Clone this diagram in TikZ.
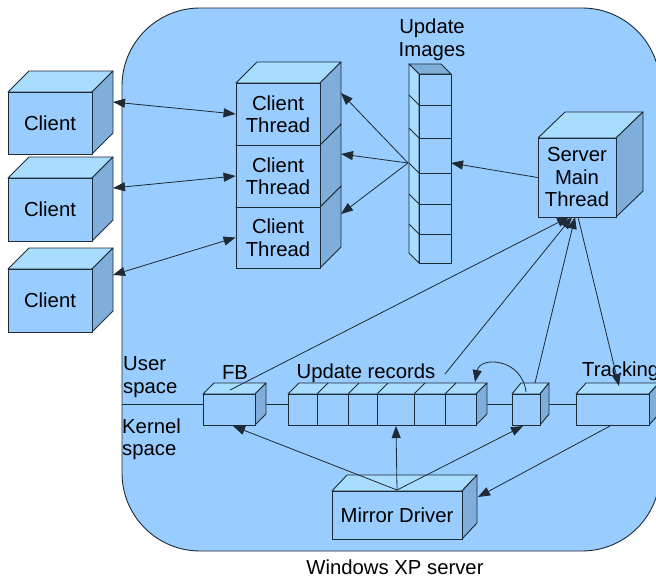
\documentclass[tikz,border=0pt]{standalone}
\usepackage{fontspec}
\setmainfont{Liberation Sans}
\usetikzlibrary{arrows.meta}
\definecolor{bg}{HTML}{99CCFF}
\definecolor{topc}{HTML}{A8DDFF}
\definecolor{sidec}{HTML}{80AEDB}
\definecolor{edge}{HTML}{1E2A36}
\tikzset{
  face/.style={draw=edge, fill=bg, inner sep=0pt, align=center, line width=0.9pt},
  topf/.style={draw=edge, fill=topc, line width=0.9pt, line join=round},
  sidef/.style={draw=edge, fill=sidec, line width=0.9pt, line join=round},
  conn/.style={draw=edge, line width=0.8pt},
  arr/.style={conn, -{Triangle[length=12pt,width=9pt]}},
  darr/.style={conn, {Triangle[length=12pt,width=9pt]}-{Triangle[length=12pt,width=9pt]}},
  lbl/.style={inner sep=0pt, align=center}
}
\newcommand\cubebox[8]{%
  \path[topf] (#2,#3) -- ++(#6,-#7) -- ++(#4-#2,0) -- (#4,#3) -- cycle;
  \path[sidef] (#4,#3) -- ++(#6,-#7) -- ++(0,#5-#3) -- (#4,#5) -- cycle;
  \node[face, minimum width={(#4-#2)*1pt}, minimum height={(#5-#3)*1pt}] (#1) at ({(#2+#4)/2},{(#3+#5)/2}) {#8};
}
\begin{document}
\begin{tikzpicture}[x=1pt,y=-1pt, font=\fontsize{20.3}{22.5}\selectfont]
\useasboundingbox (0,0) rectangle (656,578);
\clip (0,0) rectangle (656,578);
% background region
\path[draw=edge, fill=bg, line width=0.9pt, rounded corners=78pt] (122,8) rectangle (660,551);
% user/kernel separator
\coordinate (sepL) at (122,404);
\coordinate (sepR) at (656,404);
\draw[conn] (sepL) -- (sepR);
% clients
\cubebox{c1}{8}{92}{92}{154}{21}{21}{Client}
\cubebox{c2}{8}{178}{92}{241}{21}{21}{Client}
\cubebox{c3}{8}{269}{92}{332}{21}{21}{Client}
% client threads (bottom first)
\cubebox{t3}{236}{207}{320}{268}{21}{21}{Client\\Thread}
\cubebox{t2}{236}{145}{320}{207}{21}{21}{Client\\Thread}
\cubebox{t1}{236}{83}{320}{145}{21}{21}{Client\\Thread}
% update images column
\path[sidef] (409,64) -- (441,64) -- (451,74) -- (419,74) -- cycle;
\path[topf] (409,64) -- (419,74) -- (419,263) -- (409,253) -- cycle;
\node[face, minimum width=32pt, minimum height=189pt] (ui) at (435,168.5) {};
\foreach \yy in {105,138,173,204,234} {
  \draw[edge, line width=0.9pt] (419,\yy) -- (451,\yy);
  \draw[edge, line width=0.9pt] (419,\yy) -- (409,\yy-10);
}
\node[lbl] (uilbl) at (432,40) {Update\\Images};
% server main thread
\cubebox{smt}{538}{138}{616}{217}{27}{26}{Server\\Main\\Thread}
% bottom row
\cubebox{fb}{203}{394}{255}{425}{11}{11}{}
\cubebox{ur}{288}{394}{476}{425}{11}{11}{}
\foreach \xx in {317,348,377,414,445} {
  \draw[edge, line width=0.9pt] (\xx,394) -- (\xx,425);
  \draw[edge, line width=0.9pt] (\xx,394) -- (\xx+11,383);
}
\cubebox{sb}{512}{394}{540}{425}{9}{11}{}
\cubebox{tr}{576}{394}{649}{425}{10}{11}{}
\cubebox{md}{332}{491}{462}{539}{15}{16}{Mirror Driver}
% labels
\node[lbl, align=left, anchor=west] (user) at (123,377) {User\\space};
\node[lbl, align=left, anchor=west] (kern) at (122,439) {Kernel\\space};
\node[lbl] (fbl) at (235,373) {FB};
\node[lbl] (url) at (366,373) {Update records};
\node[lbl, anchor=west] (trl) at (582,371) {Tracking};
\node[lbl] (xp) at (395,567) {Windows XP server};
% connector end points
\coordinate (c1p) at (113,102);
\coordinate (c2p) at (113,188);
\coordinate (c3p) at (113,275);
\coordinate (uisrc) at (408,163);
\coordinate (t1s) at (341,93);
\coordinate (t2s) at (341,154);
\coordinate (t3s) at (341,214);
\coordinate (uie) at (451,163);
\coordinate (smtA) at (569,217);
\coordinate (smtB) at (572,217);
\coordinate (smtC) at (575,217);
\coordinate (smtD) at (578,217);
\coordinate (fbtop) at (230,390);
\coordinate (urtop) at (445,374);
\coordinate (sbtop) at (535,383);
\coordinate (trtop) at (619,386);
\coordinate (trbot) at (610,426);
\coordinate (mdtop) at (397,490);
\coordinate (mdside) at (478,497);
\coordinate (fbbot) at (233,426);
\coordinate (urbot) at (396,426);
\coordinate (sbbot) at (523,426);
\coordinate (sbcurve) at (526,392);
\coordinate (urcorner) at (475,382);
% connectors
\draw[darr] (c1p) -- (t1.west);
\draw[darr] (c2p) -- (t2.west);
\draw[darr] (c3p) -- (t3.west);
\draw[arr] (uisrc) -- (t1s);
\draw[arr] (uisrc) -- (t2s);
\draw[arr] (uisrc) -- (t3s);
\draw[arr] (smt.west) -- (uie);
\draw[arr] (fbtop) -- (smtA);
\draw[arr] (urtop) -- (smtB);
\draw[arr] (sbtop) -- (smtC);
\draw[arr] (smtD) -- (trtop);
\draw[arr] (trbot) -- (mdside);
\draw[arr] (mdtop) -- (fbbot);
\draw[arr] (mdtop) -- (urbot);
\draw[arr] (mdtop) -- (sbbot);
\draw[arr] (sbcurve) .. controls (522,358) and (480,356) .. (urcorner);
\end{tikzpicture}
\end{document}
